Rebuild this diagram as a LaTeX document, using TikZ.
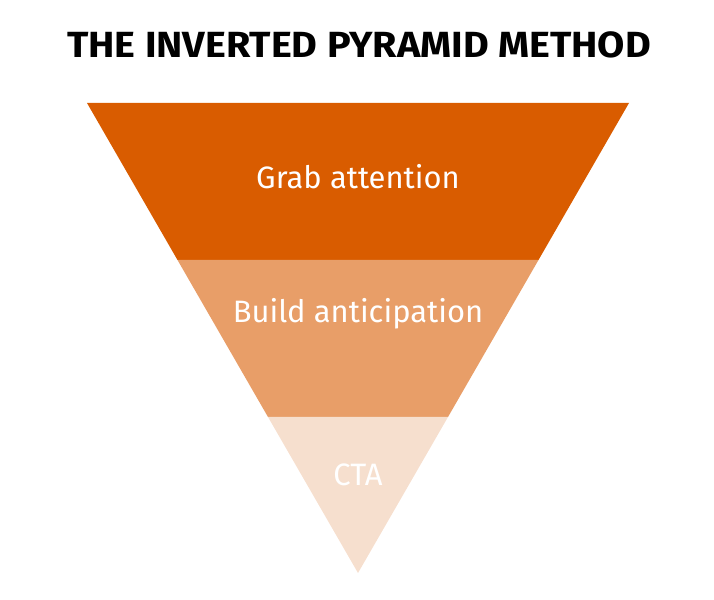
\documentclass[tikz,border=0pt]{standalone}
\usepackage{fontspec}
\setmainfont{Fira Sans}
\definecolor{topband}{HTML}{D95C00}
\definecolor{midband}{HTML}{E89E68}
\definecolor{lowband}{HTML}{F6DFCE}
\begin{document}
\begin{tikzpicture}[x=0.03cm, y=-0.03cm,
  bandtext/.style={text=white, font=\fontsize{26.4}{30}\selectfont}]
\useasboundingbox (0,0) rectangle (714,600);
% bands of the pyramid
\fill[topband] (87,103) -- (629,103) -- (538.5,260) -- (177.5,260) -- cycle;
\fill[midband] (177.5,260) -- (538.5,260) -- (448,417) -- (268,417) -- cycle;
\fill[lowband] (268,417) -- (448,417) -- (358,573) -- cycle;
\node[font=\bfseries\fontsize{27}{32}\selectfont, xscale=1.25, yscale=1.15] (title) at (359,45) {THE INVERTED PYRAMID METHOD};
\node[bandtext] (grab) at (358,177) {Grab attention};
\node[bandtext] (build) at (358,314) {Build anticipation};
\node[bandtext] (cta) at (358,475) {CTA};
\end{tikzpicture}
\end{document}
